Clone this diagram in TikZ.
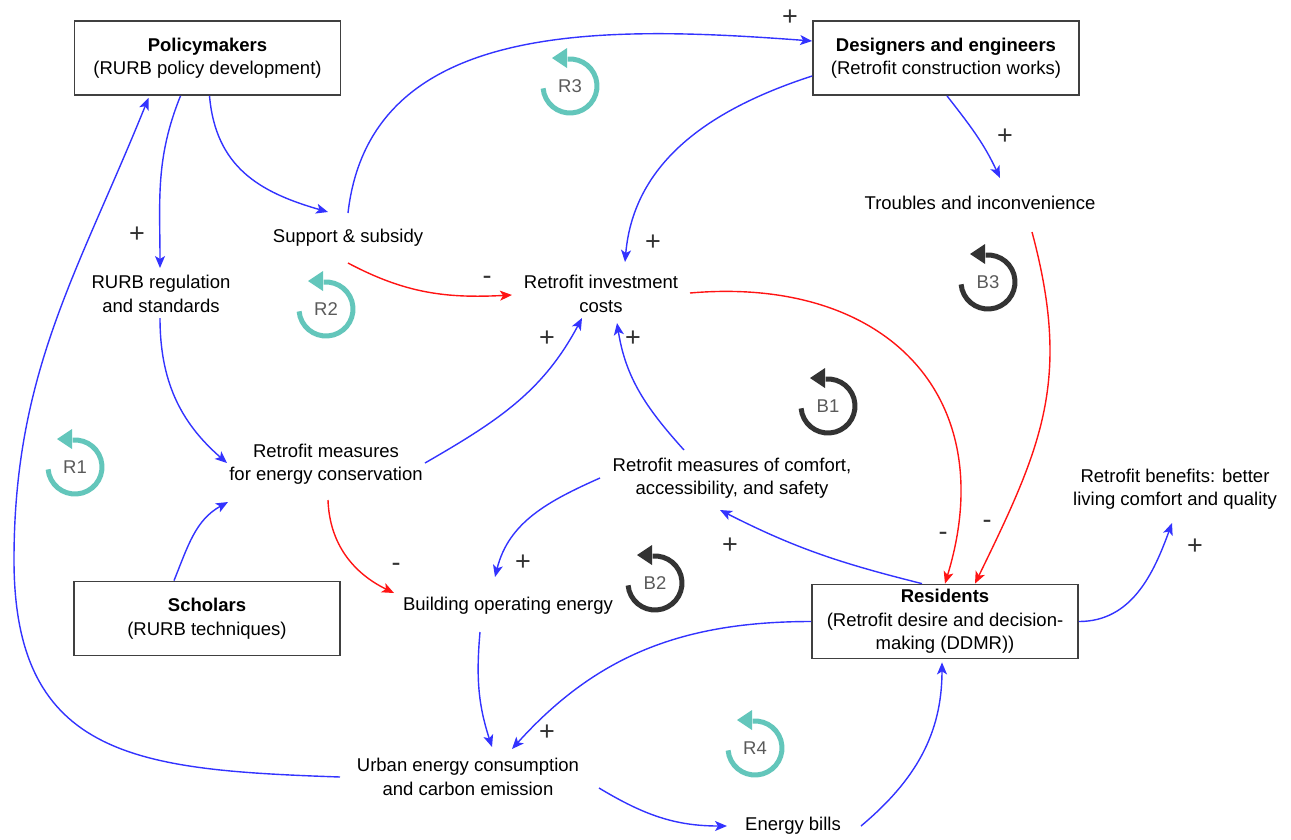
\documentclass[tikz,border=0pt]{standalone}
\usepackage{fontspec}
\setmainfont{Liberation Sans}
\usetikzlibrary{arrows.meta}

\definecolor{linkblue}{RGB}{51,51,255}
\definecolor{linkred}{RGB}{255,20,20}
\definecolor{reinforcing}{RGB}{99,198,187}
\definecolor{balancing}{RGB}{51,51,51}
\definecolor{boxgray}{RGB}{64,64,64}
\definecolor{loopgray}{RGB}{90,90,90}

% loop marker: name, position, colour, label
\newcommand{\cldloop}[4]{%
    \node [looplabel] (#1) at (#2) {#4};
    \draw [color=#3, line width=5pt] ([shift={(185:27)}]#1.center) arc[start angle=185, end angle=455, radius=27];
    \fill [#3] ([shift={(-18,28)}]#1.center) -- ++(15,10) -- ++(0,-20) -- cycle;
}

\begin{document}
\begin{tikzpicture}[
    x=1pt, y=1pt,
    font=\fontsize{18.5}{23.5}\selectfont,
    actor/.style={rectangle, draw=boxgray, line width=1.8pt, fill=white, minimum width=266pt, minimum height=74pt, align=center, inner sep=2pt},
    var/.style={align=center, inner sep=2pt},
    plusarrow/.style={draw=linkblue, line width=1.4pt, -{Stealth[length=12pt, width=10pt, inset=3pt]}},
    minusarrow/.style={plusarrow, draw=linkred},
    polarity/.style={font=\fontsize{27}{30}\selectfont, text=balancing, inner sep=0pt},
    looplabel/.style={text=loopgray, inner sep=0pt}
]
    \useasboundingbox (0,0) rectangle (1291,-839);

    %% ACTORS
    \node [actor] (pol) at (207.5,-58) {\textbf{Policymakers}\\(RURB policy development)};
    \node [actor] (des) at (946,-58) {\textbf{Designers and engineers}\\(Retrofit construction works)};
    \node [actor] (sch) at (207,-618.5) {\textbf{Scholars}\\(RURB techniques)};
    \node [actor] (res) at (945,-621.5) {\textbf{Residents}\\(Retrofit desire and decision-\\making (DDMR))};

    %% VARIABLES
    \node [var] (sup) at (348,-238) {Support \& subsidy};
    \node [var] (reg) at (161,-294) {RURB regulation\\and standards};
    \node [var] (ric) at (601,-294) {Retrofit investment\\costs};
    \node [var] (tro) at (980,-203) {Troubles and inconvenience};
    \node [var] (rme) at (326,-464) {Retrofit measures\\for energy conservation};
    \node [var] (rmc) at (732,-478) {Retrofit measures of comfort,\\accessibility, and safety};
    \node [var] (ben) at (1175,-489) {Retrofit benefits: better\\living comfort and quality};
    \node [var] (boe) at (508,-606) {Building operating energy};
    \node [var] (uec) at (468,-777) {Urban energy consumption\\and carbon emission};
    \node [var] (bil) at (793,-826) {Energy bills};
    \coordinate (lft) at (14,-560);

    %% LINKS
    % from policymakers
    \draw [plusarrow] ([xshift=2]pol.south) to[out=-85, in=164, looseness=1.1] ([shift={(-20,26)}]sup.center);
    \draw [plusarrow] ([xshift=-27]pol.south) to[out=-112, in=90] ([shift={(-1,26)}]reg.center);

    % support and subsidy
    \draw [plusarrow] ([yshift=25]sup.center) .. controls (370,-20) and (600,-25) .. ([yshift=17]des.west);
    \draw [minusarrow] ([yshift=-25]sup.center) to[out=-28, in=183] ([shift={(-89,-1)}]ric.center);

    % designers and engineers
    \draw [plusarrow] ([yshift=-18]des.west) to[out=198, in=85] ([shift={(24,32)}]ric.center);
    \draw [plusarrow] ([xshift=1]des.south) to[out=-52, in=115] ([shift={(20,25)}]tro.center);

    % towards residents
    \draw [minusarrow] ([shift={(52,-29)}]tro.center) to[out=-75, in=64, looseness=1.1] ([xshift=30]res.north);
    \draw [minusarrow] ([shift={(89,1)}]ric.center) to[out=5, in=73, looseness=1.3] (res.north);

    % retrofit measures
    \draw [plusarrow] ([shift={(-1,-24)}]reg.center) to[out=-90, in=139] ([shift={(-99,1)}]rme.center);
    \draw [plusarrow] ([xshift=-33]sch.north) to[out=68, in=209] ([shift={(-98,-38)}]rme.center);
    \draw [plusarrow] ([shift={(99,1)}]rme.center) to[out=30, in=242] ([shift={(-19,-24)}]ric.center);
    \draw [plusarrow] ([shift={(-48,28)}]rmc.center) to[out=132, in=279] ([shift={(16,-29)}]ric.center);
    \draw [plusarrow] ([xshift=-23]res.north) to[out=166, in=-27] ([shift={(-12,-32)}]rmc.center);
    \draw [plusarrow] ([xshift=-132]rmc.center) to[out=204, in=76] ([shift={(-13,29)}]boe.center);
    \draw [minusarrow] ([shift={(2,-36)}]rme.center) to[out=-88, in=154] ([shift={(-114,13)}]boe.center);

    % energy
    \draw [plusarrow] ([shift={(-28,-26)}]boe.center) to[out=-95, in=108] ([shift={(24,30)}]uec.center);
    \draw [plusarrow] (res.west) to[out=180, in=48] ([shift={(44,28)}]uec.center);
    \draw [plusarrow] ([xshift=-128]uec.center) to[out=178, in=-90, looseness=1.3] (lft) to[out=90, in=248] ([shift={(-59,-2)}]pol.south);
    \draw [plusarrow] ([shift={(131,-11)}]uec.center) to[out=-31, in=180] ([xshift=-66]bil.center);
    \draw [plusarrow] ([xshift=68]bil.center) to[out=40, in=-90] ([shift={(-3,-3)}]res.south);
    \draw [plusarrow] (res.east) to[out=0, in=250] ([shift={(-3,-34)}]ben.center);

    %% POLARITIES
    \node [polarity] (p1) at (137,-235) {+};
    \node [polarity] (p2) at (790,-18) {+};
    \node [polarity] (p3) at (487,-280) {-};
    \node [polarity] (p4) at (653,-243) {+};
    \node [polarity] (p5) at (1005,-137) {+};
    \node [polarity] (p6) at (987,-524) {-};
    \node [polarity] (p7) at (943,-536) {-};
    \node [polarity] (p8) at (547,-339) {+};
    \node [polarity] (p9) at (633,-339) {+};
    \node [polarity] (p10) at (730,-546) {+};
    \node [polarity] (p11) at (523,-563) {+};
    \node [polarity] (p12) at (396,-567) {-};
    \node [polarity] (p13) at (547,-733) {+};
    \node [polarity] (p14) at (1195,-547) {+};

    %% LOOPS
    \cldloop{r1}{75,-467}{reinforcing}{R1}
    \cldloop{r2}{326,-309}{reinforcing}{R2}
    \cldloop{r3}{570,-86}{reinforcing}{R3}
    \cldloop{r4}{755,-748}{reinforcing}{R4}
    \cldloop{b1}{828,-406}{balancing}{B1}
    \cldloop{b2}{655,-583}{balancing}{B2}
    \cldloop{b3}{988,-282}{balancing}{B3}

\end{tikzpicture}
\end{document}
